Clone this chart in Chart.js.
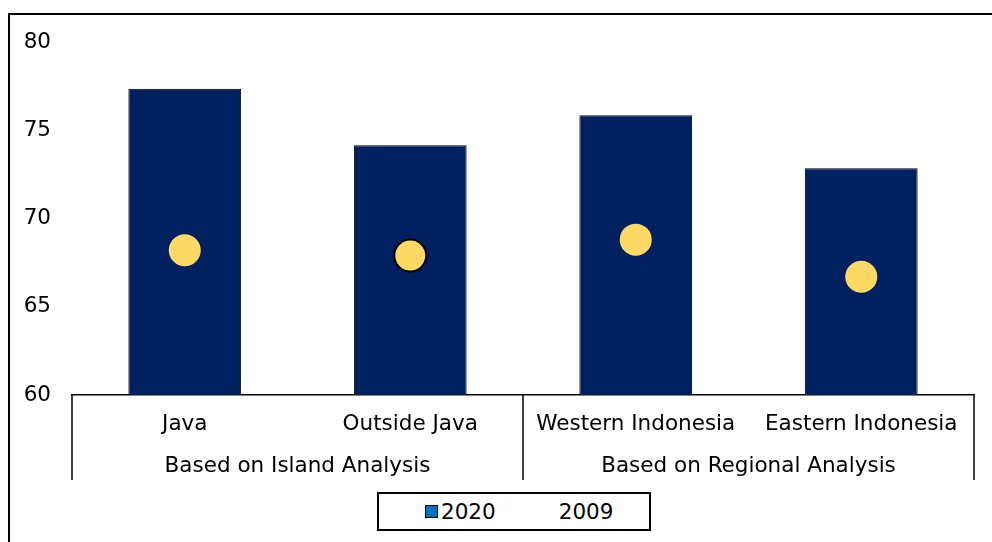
<!DOCTYPE html>
<html>
<head>
<meta charset="utf-8">
<script src="https://cdn.jsdelivr.net/npm/chart.js@4.4.1/dist/chart.umd.min.js"></script>
<style>
  html, body { margin: 0; padding: 0; overflow: hidden; background: #fff; }
  #wrap { position: relative; width: 992px; height: 542px; }
  #frame { position: absolute; left: 8px; top: 13px; width: 1100px; height: 700px; border: 2px solid #000; box-sizing: border-box; pointer-events: none; }
  #legend { position: absolute; left: 377px; top: 492px; width: 274px; height: 39px; border: 2px solid #000; box-sizing: border-box; padding-left: 46px;
            display: flex; align-items: center; justify-content: flex-start; gap: 63px; font: 21.5px "DejaVu Sans", Verdana, sans-serif; color: #000; background: #fff; }
  #legend .item { display: flex; align-items: center; }
  #legend .box { width: 11px; height: 11px; border: 1px solid #000; margin-right: 3px; }
</style>
</head>
<body>
<div id="wrap">
  <canvas id="chart" width="992" height="542"></canvas>
  <div id="frame"></div>
  <div id="legend"></div>
</div>
<script>
var categories = ['Java', 'Outside Java', 'Western Indonesia', 'Eastern Indonesia'];
var groups = ['Based on Island Analysis', 'Based on Regional Analysis'];
var values2020 = [77.35, 74.15, 75.85, 72.85];
var values2009 = [68.2, 67.9, 68.8, 66.7];
var yTicks = [60, 65, 70, 75, 80];

var FONT = '"DejaVu Sans", Verdana, sans-serif';
var FONT_SIZE = 21.5;

// separator lines and the group row under the category labels
var groupAxisPlugin = {
    id: 'groupAxis',
    afterDraw: function (chart) {
        var ctx = chart.ctx;
        var x = chart.scales.x;
        var area = chart.chartArea;
        var y0 = area.bottom;
        var y1 = area.bottom + 85;
        var edges = [area.left, (x.getPixelForValue(1) + x.getPixelForValue(2)) / 2, area.right];

        ctx.save();
        ctx.strokeStyle = '#000';
        ctx.lineWidth = 1.5;
        edges.forEach(function (ex) {
            ctx.beginPath();
            ctx.moveTo(ex, y0);
            ctx.lineTo(ex, y1);
            ctx.stroke();
        });
        ctx.fillStyle = '#000';
        ctx.font = FONT_SIZE + 'px ' + FONT;
        ctx.textAlign = 'center';
        ctx.textBaseline = 'middle';
        groups.forEach(function (g, i) {
            var cx = (x.getPixelForValue(i * 2) + x.getPixelForValue(i * 2 + 1)) / 2;
            ctx.fillText(g, cx, y0 + 71);
        });
        ctx.restore();
    }
};

var ctx = document.getElementById('chart').getContext('2d');
var chart = new Chart(ctx, {
    type: 'bar',
    data: {
        labels: categories,
        datasets: [{
            type: 'line',
            label: '2009',
            data: values2009,
            showLine: false,
            pointRadius: 16,
            pointHoverRadius: 16,
            pointBackgroundColor: '#FFD966',
            pointBorderColor: ['rgba(0,0,0,0)', '#000', 'rgba(0,0,0,0)', 'rgba(0,0,0,0)'],
            pointBorderWidth: 2,
            order: 0
        }, {
            label: '2020',
            data: values2020,
            backgroundColor: '#002060',
            borderColor: '#000',
            borderWidth: 1,
            barPercentage: 0.5,
            categoryPercentage: 1,
            order: 1
        }]
    },
    options: {
        responsive: false,
        animation: false,
        layout: { padding: { top: 42, right: 17, left: 0, bottom: 0 } },
        plugins: {
            legend: { display: false },
            tooltip: { enabled: false }
        },
        scales: {
            x: {
                grid: { display: false, drawTicks: false },
                border: { display: true, color: '#000', width: 1.5 },
                ticks: { color: '#000', font: { family: FONT, size: FONT_SIZE }, padding: 17, maxRotation: 0, autoSkip: false },
                afterFit: function (scale) { scale.height = 147; }
            },
            y: {
                min: 60,
                max: 80,
                grid: { display: false, drawTicks: false },
                border: { display: false },
                afterBuildTicks: function (scale) {
                    scale.ticks = yTicks.map(function (v) { return { value: v }; });
                },
                ticks: { color: '#000', font: { family: FONT, size: FONT_SIZE }, padding: 21 },
                afterFit: function (scale) { scale.width = 72; }
            }
        }
    },
    plugins: [groupAxisPlugin]
});

// legend box built from the datasets
var legend = document.getElementById('legend');
['2020', '2009'].forEach(function (name) {
    var ds = chart.data.datasets.find(function (d) { return d.label === name; });
    var item = document.createElement('div');
    item.className = 'item';
    if (ds.type !== 'line') {
        var box = document.createElement('span');
        box.className = 'box';
        box.style.background = '#0070C0';
        item.appendChild(box);
    }
    item.appendChild(document.createTextNode(ds.label));
    legend.appendChild(item);
});
</script>
</body>
</html>
